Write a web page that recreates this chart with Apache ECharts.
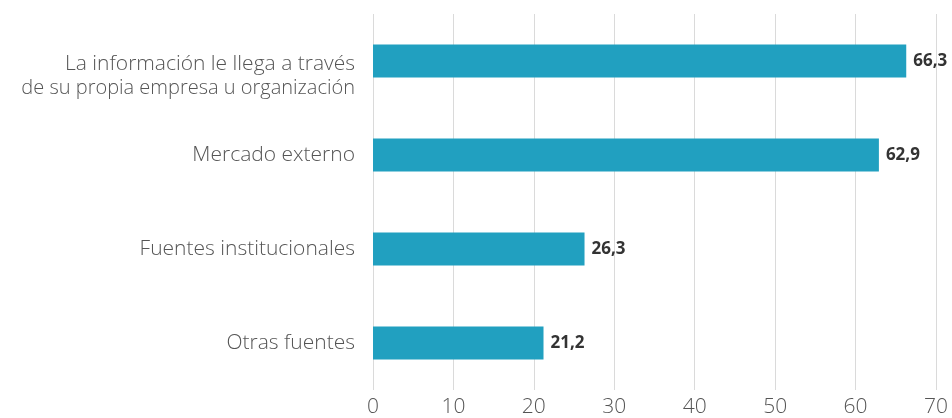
<!DOCTYPE html>
<html><head><meta charset="utf-8">
<script src="https://cdn.jsdelivr.net/npm/echarts@6/dist/echarts.min.js"></script>
<style>html,body{margin:0;padding:0;background:#fff}#c{width:952px;height:418px}</style>
</head><body><div id="c"></div>
<script>
var categories = ["La información le llega a través\nde su propia empresa u organización", "Mercado externo", "Fuentes institucionales", "Otras fuentes"];
var values = [66.3, 62.9, 26.3, 21.2];
var xTicks = [0, 10, 20, 30, 40, 50, 60, 70];

var chart = echarts.init(document.getElementById('c'), null, {renderer: 'canvas'});
var lblFont = {color: '#555', fontFamily: 'Open Sans', fontWeight: 300};
chart.setOption({
  animation: false,
  grid: {left: 373, right: 16, top: 14, bottom: 26, containLabel: false},
  xAxis: {
    type: 'value', min: xTicks[0], max: xTicks[xTicks.length - 1], interval: 10,
    axisLine: {show: false}, axisTick: {show: false},
    splitLine: {show: true, lineStyle: {color: '#dadada', width: 1}},
    axisLabel: {color: '#555', fontSize: 21, fontFamily: 'Open Sans', fontWeight: 300, margin: 7}
  },
  yAxis: {
    type: 'category', data: categories, inverse: true,
    axisLine: {show: false}, axisTick: {show: false},
    axisLabel: {color: '#555', fontSize: 21, fontFamily: 'Open Sans', fontWeight: 300, margin: 18, align: 'right',
      formatter: function (v) {
        var parts = v.split('\n');
        if (parts.length > 1) return '{e| }\n{a|' + parts[0] + '}\n{b|' + parts[1] + '}';
        return '{a|' + v + '}';
      },
      rich: {
        e: Object.assign({fontSize: 10, lineHeight: 30}, lblFont),
        a: Object.assign({fontSize: 21, lineHeight: 24}, lblFont),
        b: Object.assign({fontSize: 20, lineHeight: 24}, lblFont)
      }}
  },
  series: [{
    type: 'bar', data: values, barWidth: 33,
    itemStyle: {color: '#21a0c0'},
    label: {show: true, position: 'right', distance: 7, color: '#333', fontSize: 17, fontWeight: 'bold', fontFamily: 'Open Sans',
      formatter: function (p) { return p.value.toFixed(1).replace('.', ','); }}
  }]
});
</script></body></html>
